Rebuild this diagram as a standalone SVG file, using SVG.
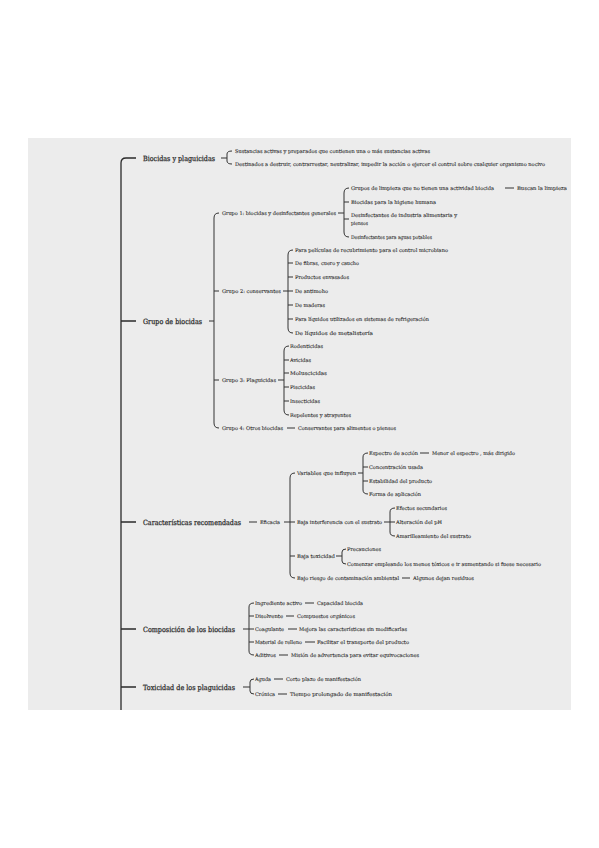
<svg xmlns="http://www.w3.org/2000/svg" width="599" height="848" viewBox="0 0 599 848">
<style>
.l{fill:none;stroke:#333;stroke-width:1}
.tr{fill:none;stroke:#2a2a2a;stroke-width:1.3}
text{font-family:"DejaVu Serif","Liberation Serif",serif;fill:#2b2b2b;dominant-baseline:central}
.m{font-size:7.2px;stroke:#2b2b2b;stroke-width:0.25}
.s{font-size:5.1px;stroke:#333;stroke-width:0.1}
</style>
<rect x="0" y="0" width="599" height="848" fill="#ffffff"/>
<rect x="28" y="138" width="543" height="572" fill="#ececec"/>
<g id="connectors">
<path class="tr" d="M136 158 H126 Q121 158 121 163 V710 M121 321 H136 M121 522 H136 M121 629 H136 M121 687 H136"/>
<path class="l" d="M221 158 H227 M232 151 Q227 151 227 154 V161 Q227 164 232 164"/>
<path class="l" d="M209 321 H214 M219 213 Q214 213 214 218 V423 Q214 428 219 428 M214 291 H219 M214 380 H219"/>
<path class="l" d="M338 213 H344 M349 188 Q344 188 344 193 V232 Q344 237 349 237 M344 202 H349 M344 219 H349 M505 188 H514"/>
<path class="l" d="M283 291 H288 M293 250 Q288 250 288 255 V328 Q288 333 293 333 M288 263 H293 M288 277 H293 M288 291 H293 M288 305 H293 M288 319 H293"/>
<path class="l" d="M278 380 H284 M289 346 Q284 346 284 351 V410 Q284 415 289 415 M284 360 H289 M284 373 H289 M284 387 H289 M284 401 H289"/>
<path class="l" d="M287 428 H295"/>
<path class="l" d="M249 522 H257 M284 522 H290 M295 473 Q290 473 290 478 V573 Q290 578 295 578 M290 522 H295 M290 556 H295"/>
<path class="l" d="M358 473 H363 M368 453 Q363 453 363 457 V490 Q363 494 368 494 M363 467 H368 M363 481 H368 M420 453 H429"/>
<path class="l" d="M384 522 H390 M395 508 Q390 508 390 512 V532 Q390 536 395 536 M390 522 H395"/>
<path class="l" d="M336 556 H342 M346 549 Q342 549 342 552 V561 Q342 564 346 564"/>
<path class="l" d="M402 578 H410"/>
<path class="l" d="M243 629 H249 M254 603 Q249 603 249 607 V651 Q249 655 254 655 M249 616 H254 M249 629 H254 M249 642 H254 M305 603 H314 M286 616 H294 M288 629 H297 M305 642 H315 M279 655 H288"/>
<path class="l" d="M243 687 H250 M254 679 Q250 679 250 682 V691 Q250 694 254 694 M274 679 H283 M278 694 H287"/>
</g>
<g id="n-biocidas-plaguicidas">
<text class="m" x="143" y="158" textLength="72" lengthAdjust="spacingAndGlyphs">Biocidas y plaguicidas</text>
<text class="s" x="235" y="151" textLength="195" lengthAdjust="spacingAndGlyphs">Sustancias activas y preparados que contienen una o más sustancias activas</text>
<text class="s" x="235" y="164" textLength="310" lengthAdjust="spacingAndGlyphs">Destinados a destruir, contrarrestar, neutralizar, impedir la acción o ejercer el control sobre cualquier organismo nocivo</text>
</g>
<g id="n-grupo-biocidas">
<text class="m" x="143" y="321" textLength="59" lengthAdjust="spacingAndGlyphs">Grupo de biocidas</text>
</g>
<g id="n-grupo1">
<text class="s" x="222" y="213" textLength="114" lengthAdjust="spacingAndGlyphs">Grupo 1: biocidas y desinfectantes generales</text>
<text class="s" x="351" y="188" textLength="143" lengthAdjust="spacingAndGlyphs">Grupos de limpieza que no tienen una actividad biocida</text>
<text class="s" x="517" y="188" textLength="50" lengthAdjust="spacingAndGlyphs">Buscan la limpieza</text>
<text class="s" x="351" y="202" textLength="85" lengthAdjust="spacingAndGlyphs">Biocidas para la higiene humana</text>
<text class="s" x="351" y="215" textLength="106" lengthAdjust="spacingAndGlyphs">Desinfectantes de industria alimentaria y</text>
<text class="s" x="351" y="223" textLength="17" lengthAdjust="spacingAndGlyphs">piensos</text>
<text class="s" x="351" y="237" textLength="81" lengthAdjust="spacingAndGlyphs">Desinfectantes para aguas potables</text>
</g>
<g id="n-grupo2">
<text class="s" x="222" y="291" textLength="59" lengthAdjust="spacingAndGlyphs">Grupo 2: conservantes</text>
<text class="s" x="295" y="250" textLength="153" lengthAdjust="spacingAndGlyphs">Para películas de recubrimiento para el control microbiano</text>
<text class="s" x="295" y="263" textLength="64" lengthAdjust="spacingAndGlyphs">De fibras, cuero y caucho</text>
<text class="s" x="295" y="277" textLength="54" lengthAdjust="spacingAndGlyphs">Productos envasados</text>
<text class="s" x="295" y="291" textLength="33" lengthAdjust="spacingAndGlyphs">De antimoho</text>
<text class="s" x="295" y="305" textLength="30" lengthAdjust="spacingAndGlyphs">De maderas</text>
<text class="s" x="295" y="319" textLength="134" lengthAdjust="spacingAndGlyphs">Para líquidos utilizados en sistemas de refrigeración</text>
<text class="s" x="295" y="333" textLength="78" lengthAdjust="spacingAndGlyphs">De líquidos de metalistería</text>
</g>
<g id="n-grupo3">
<text class="s" x="222" y="380" textLength="54" lengthAdjust="spacingAndGlyphs">Grupo 3: Plaguicidas</text>
<text class="s" x="290" y="346" textLength="33" lengthAdjust="spacingAndGlyphs">Rodenticidas</text>
<text class="s" x="290" y="360" textLength="21" lengthAdjust="spacingAndGlyphs">Avicidas</text>
<text class="s" x="290" y="373" textLength="37" lengthAdjust="spacingAndGlyphs">Moluscicidas</text>
<text class="s" x="290" y="387" textLength="25" lengthAdjust="spacingAndGlyphs">Piscicidas</text>
<text class="s" x="290" y="401" textLength="30" lengthAdjust="spacingAndGlyphs">Insecticidas</text>
<text class="s" x="290" y="415" textLength="61" lengthAdjust="spacingAndGlyphs">Repelentes y atrayentes</text>
</g>
<g id="n-grupo4">
<text class="s" x="222" y="428" textLength="61" lengthAdjust="spacingAndGlyphs">Grupo 4: Otros biocidas</text>
<text class="s" x="298" y="428" textLength="98" lengthAdjust="spacingAndGlyphs">Conservantes para alimentos o piensos</text>
</g>
<g id="n-caracteristicas">
<text class="m" x="143" y="522" textLength="98" lengthAdjust="spacingAndGlyphs">Características recomendadas</text>
<text class="s" x="260" y="522" textLength="20" lengthAdjust="spacingAndGlyphs">Eficacia</text>
<text class="s" x="297" y="473" textLength="59" lengthAdjust="spacingAndGlyphs">Variables que influyen</text>
<text class="s" x="369" y="453" textLength="49" lengthAdjust="spacingAndGlyphs">Espectro de acción</text>
<text class="s" x="432" y="453" textLength="83" lengthAdjust="spacingAndGlyphs">Menor el espectro , más dirigido</text>
<text class="s" x="369" y="467" textLength="54" lengthAdjust="spacingAndGlyphs">Concentración usada</text>
<text class="s" x="369" y="481" textLength="63" lengthAdjust="spacingAndGlyphs">Estabilidad del producto</text>
<text class="s" x="369" y="494" textLength="52" lengthAdjust="spacingAndGlyphs">Forma de aplicación</text>
<text class="s" x="297" y="522" textLength="85" lengthAdjust="spacingAndGlyphs">Baja interferencia con el sustrato</text>
<text class="s" x="396" y="508" textLength="51" lengthAdjust="spacingAndGlyphs">Efectos secundarios</text>
<text class="s" x="396" y="522" textLength="46" lengthAdjust="spacingAndGlyphs">Alteración del pH</text>
<text class="s" x="396" y="536" textLength="75" lengthAdjust="spacingAndGlyphs">Amarilleamiento del sustrato</text>
<text class="s" x="297" y="556" textLength="38" lengthAdjust="spacingAndGlyphs">Baja toxicidad</text>
<text class="s" x="347" y="549" textLength="34" lengthAdjust="spacingAndGlyphs">Precauciones</text>
<text class="s" x="347" y="564" textLength="194" lengthAdjust="spacingAndGlyphs">Comenzar empleando los menos tóxicos e ir aumentando si fuese necesario</text>
<text class="s" x="297" y="578" textLength="102" lengthAdjust="spacingAndGlyphs">Bajo riesgo de contaminación ambiental</text>
<text class="s" x="413" y="578" textLength="61" lengthAdjust="spacingAndGlyphs">Algunos dejan residuos</text>
</g>
<g id="n-composicion">
<text class="m" x="143" y="629" textLength="92" lengthAdjust="spacingAndGlyphs">Composición de los biocidas</text>
<text class="s" x="255" y="603" textLength="47" lengthAdjust="spacingAndGlyphs">Ingrediente activo</text>
<text class="s" x="317" y="603" textLength="46" lengthAdjust="spacingAndGlyphs">Capacidad biocida</text>
<text class="s" x="255" y="616" textLength="28" lengthAdjust="spacingAndGlyphs">Disolvente</text>
<text class="s" x="297" y="616" textLength="58" lengthAdjust="spacingAndGlyphs">Compuestos orgánicos</text>
<text class="s" x="255" y="629" textLength="29" lengthAdjust="spacingAndGlyphs">Coagulante</text>
<text class="s" x="299" y="629" textLength="108" lengthAdjust="spacingAndGlyphs">Mejora las características sin modificarlas</text>
<text class="s" x="255" y="642" textLength="47" lengthAdjust="spacingAndGlyphs">Material de relleno</text>
<text class="s" x="317" y="642" textLength="92" lengthAdjust="spacingAndGlyphs">Facilitar el transporte del producto</text>
<text class="s" x="255" y="655" textLength="21" lengthAdjust="spacingAndGlyphs">Aditivos</text>
<text class="s" x="291" y="655" textLength="128" lengthAdjust="spacingAndGlyphs">Misión de advertencia para evitar equivocaciones</text>
</g>
<g id="n-toxicidad">
<text class="m" x="143" y="687" textLength="92" lengthAdjust="spacingAndGlyphs">Toxicidad de los plaguicidas</text>
<text class="s" x="255" y="679" textLength="16" lengthAdjust="spacingAndGlyphs">Aguda</text>
<text class="s" x="286" y="679" textLength="75" lengthAdjust="spacingAndGlyphs">Corto plazo de manifestación</text>
<text class="s" x="255" y="694" textLength="20" lengthAdjust="spacingAndGlyphs">Crónica</text>
<text class="s" x="290" y="694" textLength="102" lengthAdjust="spacingAndGlyphs">Tiempo prolongado de manifestación</text>
</g>
</svg>
